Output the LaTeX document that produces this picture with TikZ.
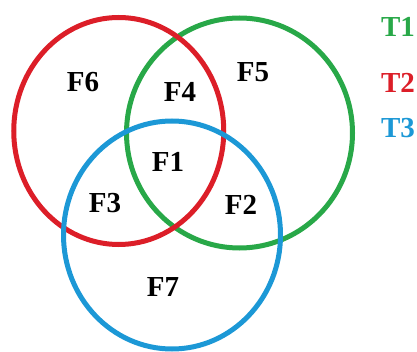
\documentclass[tikz,border=0pt]{standalone}
\usepackage{fontspec}
\setmainfont{Liberation Serif}
\definecolor{vred}{RGB}{220,30,40}
\definecolor{vgreen}{RGB}{40,168,72}
\definecolor{vblue}{RGB}{28,152,214}
\begin{document}
\begin{tikzpicture}[x=1pt,y=-1pt,
  ring/.style={line width=5pt},
  lab/.style={font=\fontsize{29}{29}\selectfont\bfseries, inner sep=0pt},
  leg/.style={font=\fontsize{29}{29}\selectfont\bfseries, inner sep=0pt}]
\useasboundingbox (0,0) rectangle (417,352);
\draw[ring, vgreen] (239.5,133) ellipse [x radius=113, y radius=115];
\draw[ring, vred] (118.75,131) ellipse [x radius=105, y radius=113.5];
\draw[ring, vblue] (172,235) ellipse [x radius=108.5, y radius=114];
\node[lab] (f6) at (83,82) {F6};
\node[lab] (f4) at (180,92) {F4};
\node[lab] (f5) at (253,72) {F5};
\node[lab] (f1) at (168,162) {F1};
\node[lab] (f3) at (105,203) {F3};
\node[lab] (f2) at (241,205) {F2};
\node[lab] (f7) at (163,287) {F7};
\node[leg, text=vgreen] (t1) at (398,27) {T1};
\node[leg, text=vred] (t2) at (398,83) {T2};
\node[leg, text=vblue] (t3) at (398,128) {T3};
\end{tikzpicture}
\end{document}
